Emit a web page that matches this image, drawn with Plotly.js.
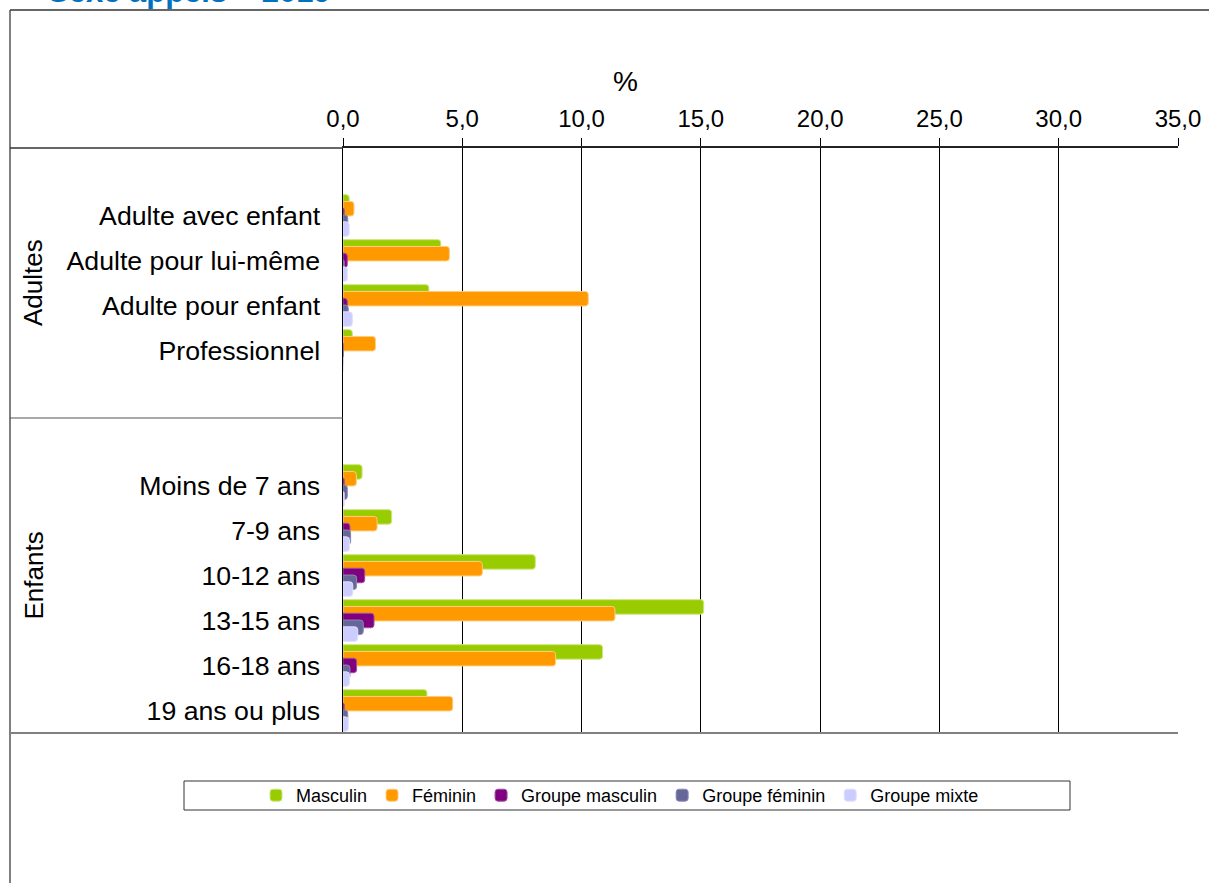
<!DOCTYPE html>
<html>
<head>
<meta charset="utf-8">
<script src="https://cdn.plot.ly/plotly-3.0.1.min.js"></script>
<style>
html,body{margin:0;padding:0;background:#fff;}
#chart{width:1209px;height:883px;}
</style>
</head>
<body>
<div id="chart"></div>
<script>
// Category slots (empty strings are the blank spacer slots of the original chart)
const categories = ["", "Adulte avec enfant", "Adulte pour lui-même", "Adulte pour enfant", "Professionnel", "", "",
  "Moins de 7 ans", "7-9 ans", "10-12 ans", "13-15 ans", "16-18 ans", "19 ans ou plus"];
const groupLabels = ["Adultes", "Enfants"];
const groupSlots = [[0, 5], [6, 12]];

const seriesNames = ["Masculin", "Féminin", "Groupe masculin", "Groupe féminin", "Groupe mixte"];
const masculin        = [null, 0.26, 4.10, 3.60, 0.39, null, null, 0.80, 2.04, 8.06, 15.12, 10.88, 3.52];
const feminin         = [null, 0.46, 4.46, 10.28, 1.36, null, null, 0.56, 1.43, 5.84, 11.40, 8.91, 4.60];
const groupeMasculin  = [null, 0.05, 0.18, 0.18, 0.00, null, null, 0.05, 0.29, 0.91, 1.30, 0.57, 0.05];
const groupeFeminin   = [null, 0.20, 0.05, 0.22, 0.00, null, null, 0.18, 0.32, 0.57, 0.85, 0.29, 0.20];
const groupeMixte     = [null, 0.26, 0.18, 0.39, 0.00, null, null, 0.05, 0.27, 0.41, 0.62, 0.27, 0.22];
const xTicks = [0, 5, 10, 15, 20, 25, 30, 35];

const seriesValues = [masculin, feminin, groupeMasculin, groupeFeminin, groupeMixte];
const colors = ["#99CC00", "#FF9900", "#800080", "#666699", "#CCCCFF"];
const edgeColors = ["#CCE680", "#FFCC80", "#A050A0", "#8A8AB5", "#E0E0FF"];

const slotIdx = categories.map((c, i) => i);
const barW = 0.322, step = 0.151;

const traces = seriesNames.map((name, k) => ({
  type: 'bar',
  orientation: 'h',
  name: name,
  x: seriesValues[k],
  y: slotIdx,
  width: barW,
  offset: (k - 2) * step - barW / 2,
  marker: {color: colors[k], line: {color: edgeColors[k], width: 1}},
  hoverinfo: 'x+name'
}));

// pixel helpers for decorations outside the plot area
const W = 1209, H = 883, L = 343, R = 1178, T = 148, B = 733;
const px = x => (x - L) / (R - L);
const py = y => (B - y) / (B - T);

const shapes = [
  // outer chart frame (top & left)
  {type: 'line', xref: 'paper', yref: 'paper', x0: px(10), x1: px(1215), y0: py(10), y1: py(10), line: {color: '#333', width: 1.5}},
  {type: 'line', xref: 'paper', yref: 'paper', x0: px(10), x1: px(10), y0: py(10), y1: py(890), line: {color: '#555', width: 1.5}},
  // category label area lines
  {type: 'line', xref: 'paper', yref: 'paper', x0: px(10), x1: 0, y0: 1, y1: 1, line: {color: '#333', width: 1.5}},
  {type: 'line', xref: 'paper', yref: 'y', x0: px(10), x1: 0, y0: 5.5, y1: 5.5, line: {color: '#555', width: 1.2}},
  {type: 'line', xref: 'paper', yref: 'paper', x0: px(10), x1: 1, y0: 0, y1: 0, line: {color: '#808080', width: 2}},
  // legend frame
  {type: 'rect', xref: 'paper', yref: 'paper', x0: px(184), x1: px(1070), y0: py(810), y1: py(781), line: {color: '#333', width: 1}}
];

const annotations = groupLabels.map((g, i) => ({
  text: g, xref: 'paper', yref: 'y', x: px(33), y: (groupSlots[i][0] + groupSlots[i][1]) / 2,
  textangle: -90, showarrow: false, font: {size: 26, color: '#000'}, xanchor: 'center', yanchor: 'middle'
}));
// axis unit label, placed as in the original (left of the plot centre)
annotations.push({
  text: '%', xref: 'paper', yref: 'paper', x: px(625), y: py(82),
  xanchor: 'center', yanchor: 'middle', showarrow: false, font: {size: 28, color: '#000'}
});
annotations.push({
  text: 'Sexe appels – 2019', xref: 'paper', yref: 'paper', x: px(46), y: py(11),
  xanchor: 'left', yanchor: 'bottom', showarrow: false,
  font: {size: 31, color: '#0070C0', family: 'Liberation Sans', weight: 'bold'}
});

const layout = {
  width: W, height: H,
  margin: {l: L, r: W - R, t: T, b: H - B, pad: 0},
  paper_bgcolor: '#fff', plot_bgcolor: '#fff',
  font: {family: '"Liberation Sans", Arial, sans-serif', color: '#000'},
  separators: ', ',
  barmode: 'overlay',
  barcornerradius: 3,
  showlegend: true,
  legend: {
    orientation: 'h', x: px(620), y: py(795.5), xanchor: 'center', yanchor: 'middle',
    font: {size: 18}, bgcolor: 'rgba(0,0,0,0)', borderwidth: 0, traceorder: 'normal'
  },
  xaxis: {
    side: 'top', range: [0, 35], tickvals: xTicks, tickformat: '.1f',
    ticks: 'outside', ticklen: 8, tickcolor: '#000', tickwidth: 1,
    showline: true, linecolor: '#222', linewidth: 2,
    showgrid: true, gridcolor: '#000', gridwidth: 1, zeroline: false,
    tickfont: {size: 24}, ticklabelstandoff: 1,
    fixedrange: true
  },
  yaxis: {
    range: [12.5, -0.5], tickvals: slotIdx, ticktext: categories,
    ticks: '', showgrid: false, zeroline: false,
    showline: true, linecolor: '#000', linewidth: 1.5,
    tickfont: {size: 26.7}, ticklabelstandoff: 16, fixedrange: true
  },
  shapes: shapes,
  annotations: annotations
};

Plotly.newPlot('chart', traces, layout, {displayModeBar: false, staticPlot: true});
</script>
</body>
</html>
